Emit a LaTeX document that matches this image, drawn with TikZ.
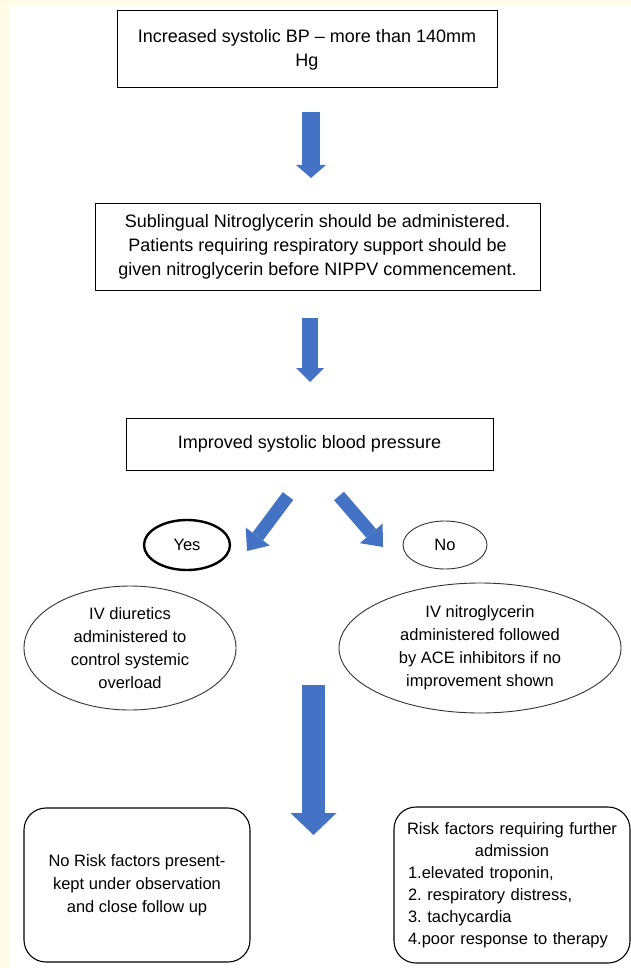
\documentclass[tikz,border=0pt]{standalone}
\usepackage{fontspec}
\setmainfont{Liberation Sans}
\usetikzlibrary{shapes.geometric,arrows.meta}
\definecolor{cream}{RGB}{255,251,230}
\definecolor{arrowblue}{RGB}{68,114,196}
\frenchspacing
\begin{document}
\begin{tikzpicture}[x=1pt,y=-1pt,
  bigtext/.style={font=\fontsize{18}{24}\selectfont},
  smalltext/.style={font=\fontsize{16.5}{23}\selectfont},
  sqbox/.style={draw=black,line width=1pt,align=center,inner sep=0pt,bigtext},
  rbox/.style={draw=black,line width=1.1pt,rounded corners=22pt,inner sep=0pt,smalltext},
  ell/.style={ellipse,draw=black!80,line width=0.9pt,inner sep=0pt,align=center,smalltext},
  barrow/.style={draw=arrowblue,line width=#1},
]
\useasboundingbox (0,0) rectangle (631,968);
\fill[white] (0,0) rectangle (631,968);
\fill[cream] (0,0) rectangle (9,968);
\fill[cream] (0,0) rectangle (631,5);

% boxes
\node[sqbox,minimum width=380,minimum height=77] (b1) at (307,49.5)
  {Increased systolic BP -- more than 140mm\\Hg};
\node[sqbox,minimum width=445,minimum height=86] (b2) at (317.5,247)
  {Sublingual Nitroglycerin should be administered.\\Patients requiring respiratory support should be\\given nitroglycerin before NIPPV commencement.};
\node[sqbox,minimum width=367,minimum height=52] (b3) at (309.5,444)
  {Improved systolic blood pressure};

% yes / no
\node[ell,line width=2.4pt,draw=black,minimum width=86,minimum height=50] (yes) at (187,545) {Yes};
\node[ell,minimum width=84,minimum height=48] (no) at (445,545) {No};

% treatment ellipses
\node[ell,minimum width=212,minimum height=124] (e1) at (130,648)
  {IV diuretics\\administered to\\control systemic\\overload};
\node[ell,minimum width=282,minimum height=130] (e2) at (480,648)
  {IV nitroglycerin\\administered followed\\by ACE inhibitors if no\\improvement shown};

% bottom boxes
\node[rbox,minimum width=226,minimum height=154,align=center] (r1) at (137,885)
  {No Risk factors present-\\kept under observation\\and close follow up};
\node[rbox,minimum width=236,minimum height=156,text width=208,align=left,font=\fontsize{16.5}{22}\selectfont] (r2) at (512,885)
  {\makebox[\linewidth]{Risk factors requiring further}\\\makebox[\linewidth]{admission}\\1.elevated troponin,\\2. respiratory distress,\\3. tachycardia\\4.poor response to therapy};

% arrow coordinates
\coordinate (a1s) at (311,112);
\coordinate (a1e) at (311,178);
\coordinate (a2s) at (310,318);
\coordinate (a2e) at (310,382);
\coordinate (dls) at (288,496);
\coordinate (dle) at (247,551);
\coordinate (drs) at (339,496);
\coordinate (dre) at (383,547);
\coordinate (a3s) at (313.5,685);
\coordinate (a3e) at (313.5,835);

\draw[barrow=18pt,-{Triangle[width=30pt,length=13pt,line width=0pt]}] (a1s) -- (a1e);
\draw[barrow=16pt,-{Triangle[width=28pt,length=14pt,line width=0pt]}] (a2s) -- (a2e);
\draw[barrow=13pt,-{Triangle[width=30pt,length=18pt,line width=0pt]}] (dls) -- (dle);
\draw[barrow=13pt,-{Triangle[width=30pt,length=18pt,line width=0pt]}] (drs) -- (dre);
\draw[barrow=23pt,-{Triangle[width=46pt,length=22pt,line width=0pt]}] (a3s) -- (a3e);
\end{tikzpicture}
\end{document}
